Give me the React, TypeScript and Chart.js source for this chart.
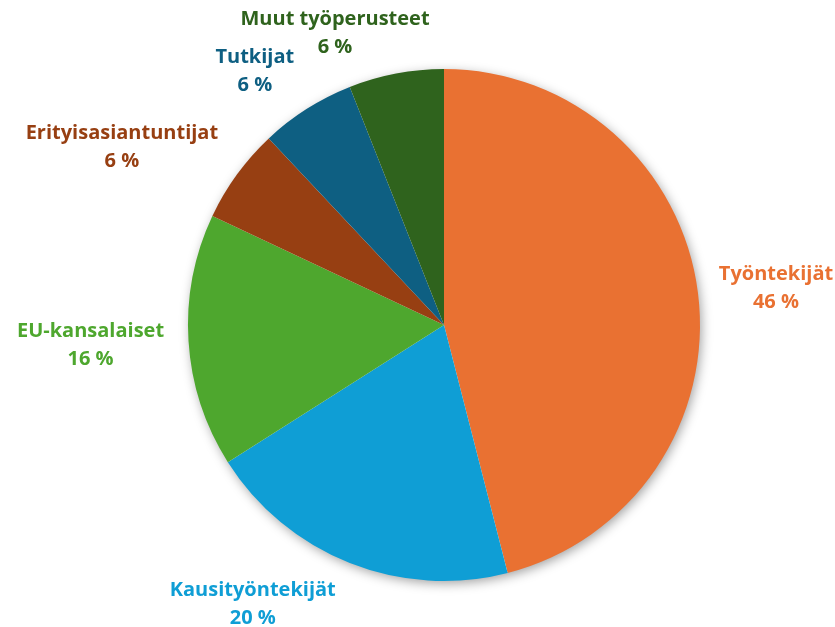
import React, { useEffect, useRef } from "react";
import { Chart, registerables } from "chart.js";

Chart.register(...registerables);

const categories = [
  "Työntekijät",
  "Kausityöntekijät",
  "EU-kansalaiset",
  "Erityisasiantuntijat",
  "Tutkijat",
  "Muut työperusteet",
];
const values = [46, 20, 16, 6, 6, 6];
const percentLabels = ["46 %", "20 %", "16 %", "6 %", "6 %", "6 %"];
const colors = ["#E97132", "#0F9ED5", "#4EA72E", "#973F12", "#0E5F82", "#2F631D"];
// label offsets (px) from the outer-edge midpoint of each slice
const labelOffsets: [number, number][] = [
  [78, -5],
  [-97, 41],
  [-98, 4],
  [-115, -27],
  [-52, -38],
  [-61, -40],
];

const FONT = "bold 20px 'Open Sans', sans-serif";

const shadowPlugin = {
  id: "pieShadow",
  beforeDatasetsDraw(chart: any) {
    const meta = chart.getDatasetMeta(0);
    const arc = meta.data[0];
    if (!arc) return;
    const { x, y, outerRadius } = arc.getProps(["x", "y", "outerRadius"], true);
    const ctx = chart.ctx;
    ctx.save();
    ctx.shadowColor = "rgba(0,0,0,0.4)";
    ctx.shadowBlur = 12;
    ctx.shadowOffsetX = 2;
    ctx.shadowOffsetY = 3;
    ctx.fillStyle = "#ffffff";
    ctx.beginPath();
    ctx.arc(x, y, outerRadius - 1, 0, Math.PI * 2);
    ctx.fill();
    ctx.restore();
  },
};

const labelPlugin = {
  id: "outerLabels",
  afterDatasetsDraw(chart: any) {
    const meta = chart.getDatasetMeta(0);
    const ctx = chart.ctx;
    ctx.save();
    ctx.font = FONT;
    ctx.textAlign = "center";
    ctx.textBaseline = "middle";
    meta.data.forEach((arc: any, i: number) => {
      const { x, y, startAngle, endAngle, outerRadius } = arc.getProps(
        ["x", "y", "startAngle", "endAngle", "outerRadius"],
        true
      );
      const mid = (startAngle + endAngle) / 2;
      const ax = x + Math.cos(mid) * outerRadius + labelOffsets[i][0];
      const ay = y + Math.sin(mid) * outerRadius + labelOffsets[i][1];
      ctx.fillStyle = colors[i];
      ctx.fillText(categories[i], ax, ay - 14);
      ctx.fillText(percentLabels[i], ax, ay + 14);
    });
    ctx.restore();
  },
};

export default function App() {
  const ref = useRef<HTMLCanvasElement>(null);
  useEffect(() => {
    if (!ref.current) return;
    const chart = new Chart(ref.current, {
      type: "pie",
      data: {
        labels: categories,
        datasets: [
          {
            data: values,
            backgroundColor: colors,
            borderWidth: 0,
          },
        ],
      },
      options: {
        responsive: false,
        animation: false,
        layout: { padding: { left: 188, right: 135, top: 69, bottom: 46 } },
        plugins: {
          legend: { display: false },
          tooltip: { enabled: false },
        },
      },
      plugins: [shadowPlugin, labelPlugin],
    });
    return () => chart.destroy();
  }, []);
  return (
    <div style={{ position: "absolute", left: 0, top: 0, width: 835, height: 627, background: "#fff" }}>
      <canvas ref={ref} width={835} height={627} />
    </div>
  );
}
